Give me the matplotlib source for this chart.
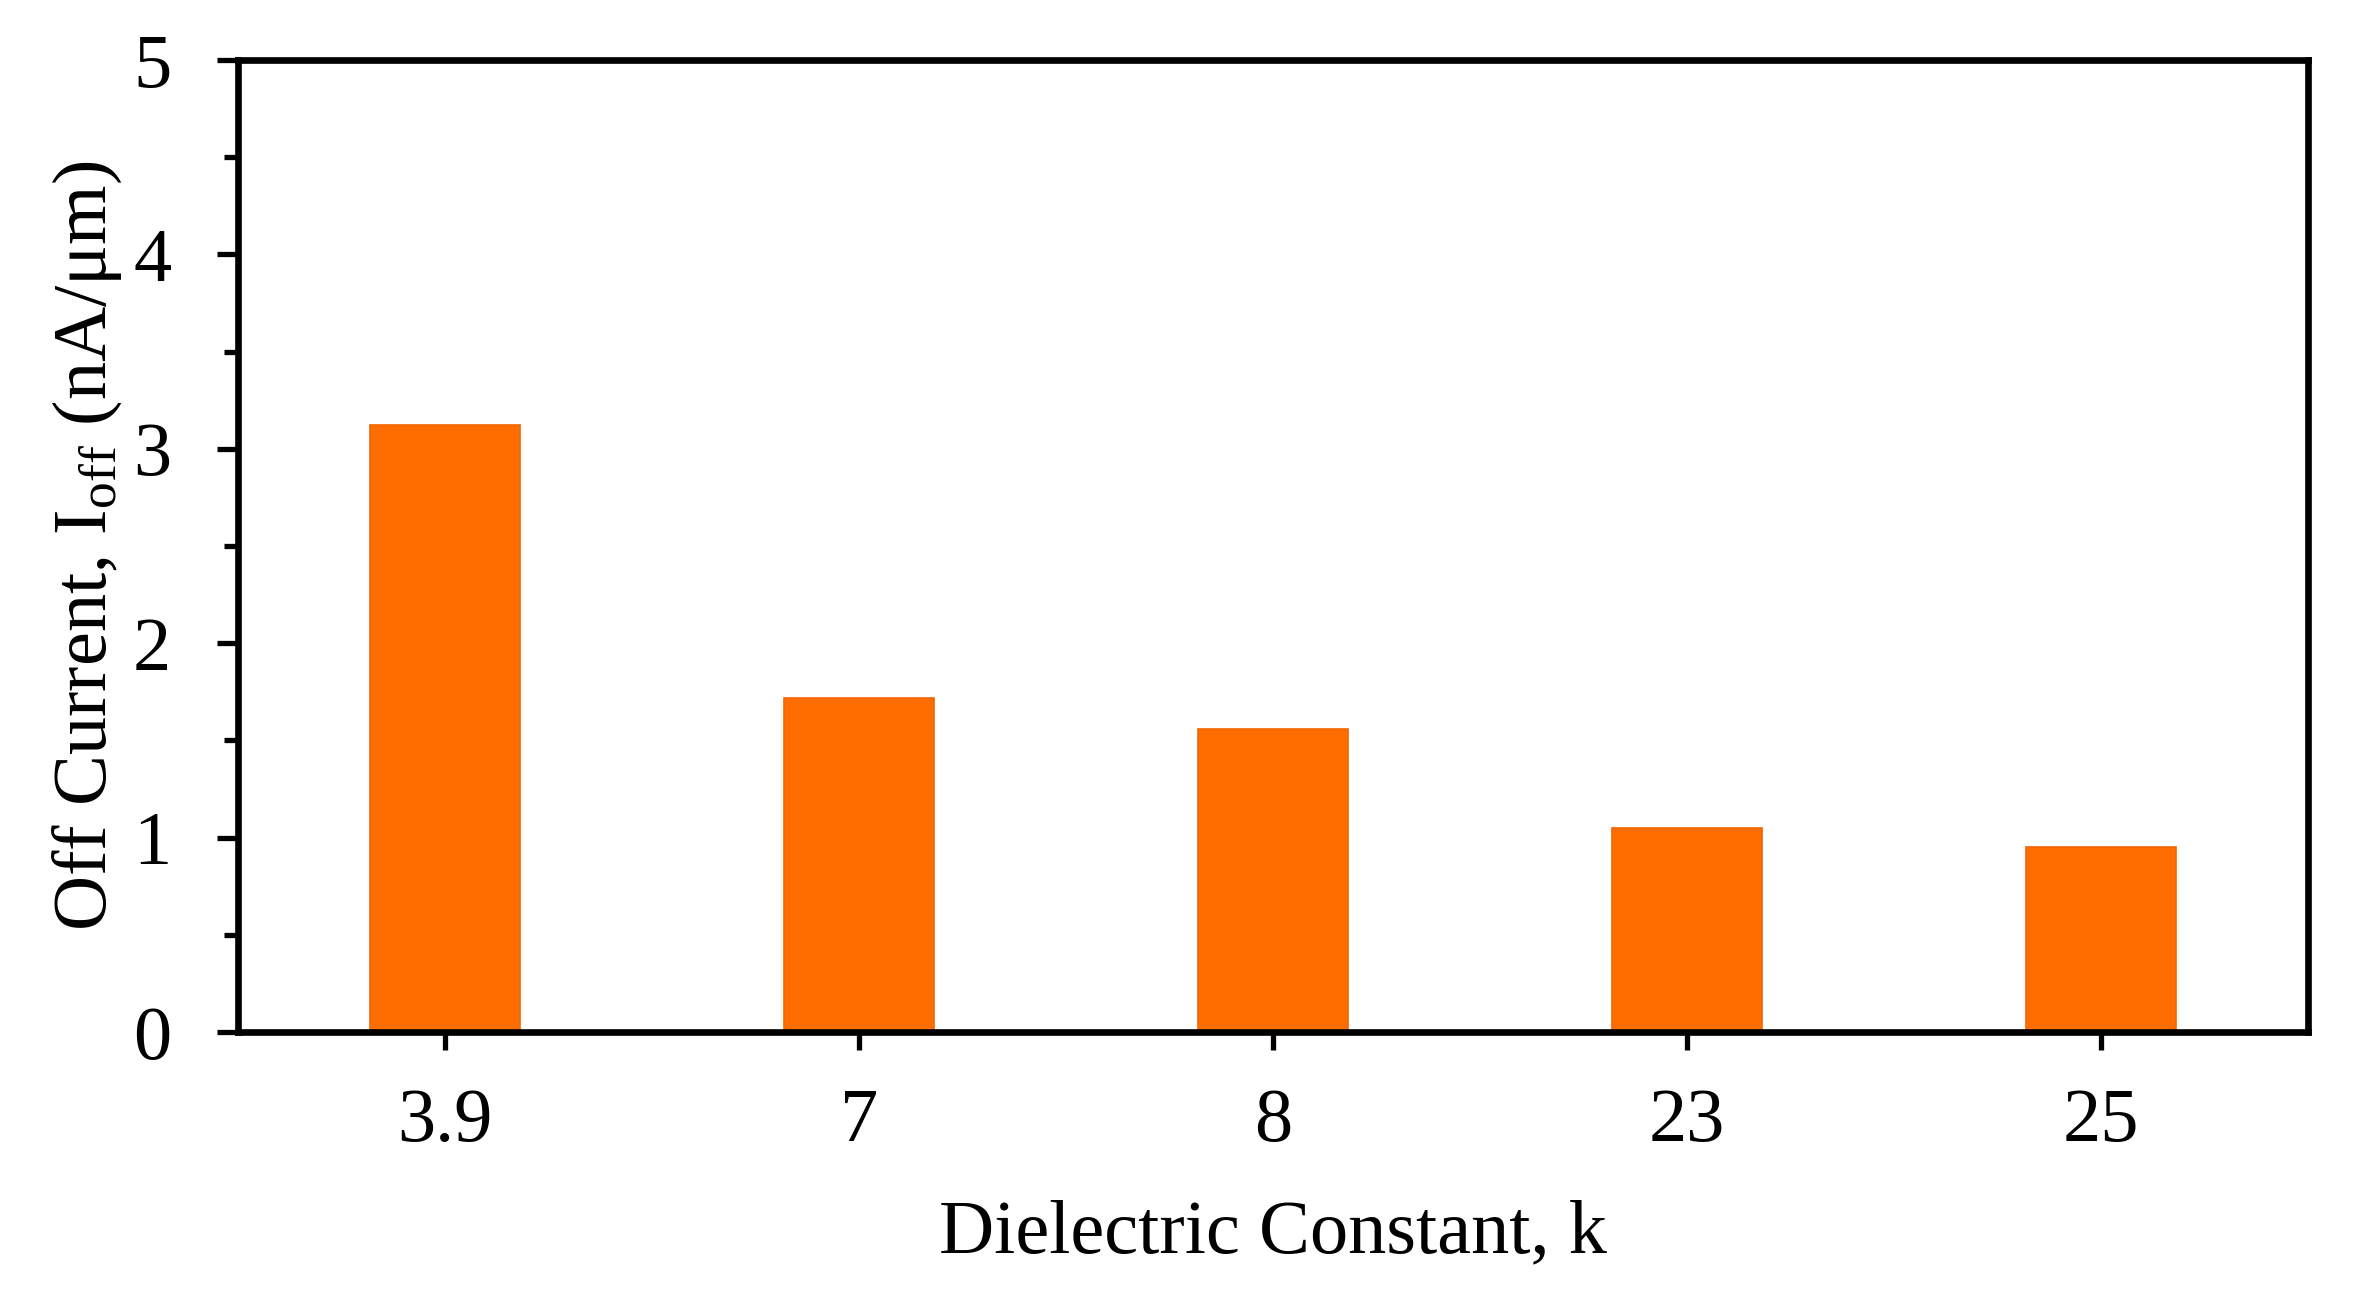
import matplotlib
matplotlib.use("Agg")
import matplotlib.pyplot as plt
from matplotlib.ticker import MultipleLocator
import numpy as np

# data
k_labels = ["3.9", "7", "8", "23", "25"]
i_off = [3.12, 1.72, 1.56, 1.05, 0.95]

plt.rcParams['font.family'] = ['Liberation Serif', 'DejaVu Serif']
plt.rcParams['mathtext.fontset'] = 'custom'
plt.rcParams['mathtext.rm'] = 'Liberation Serif'
plt.rcParams['mathtext.it'] = 'Liberation Serif:italic'

fs = 55
fig = plt.figure(figsize=(23.55, 12.91), dpi=100)
ax = fig.add_axes([238/2355, 1 - 1032/1291, (2308-238)/2355, (1032-60)/1291])

x = np.arange(len(k_labels))
ax.bar(x, i_off, width=0.36, color='#FF6D00', edgecolor='#F06600', linewidth=1.2, zorder=2)

ax.set_xlim(-0.5, len(k_labels) - 0.5)
ax.set_ylim(0, 5)
ax.set_xticks(x)
ax.set_xticklabels(k_labels)
ax.yaxis.set_major_locator(MultipleLocator(1))
ax.yaxis.set_minor_locator(MultipleLocator(0.5))

for s in ax.spines.values():
    s.set_linewidth(4.8)
    s.set_color('black')

ax.tick_params(axis='y', which='major', direction='out', length=15, width=3.8, labelsize=fs, pad=33)
ax.tick_params(axis='y', which='minor', direction='out', length=10, width=3.8)
ax.tick_params(axis='x', which='major', direction='out', length=13, width=3.8, labelsize=fs, pad=27)

ax.set_xlabel('Dielectric Constant, k', fontsize=fs)
ax.xaxis.set_label_coords(0.5, -0.172)
ax.set_ylabel('Off Current, I$_{\\mathrm{off}}$ (nA/μm)', fontsize=fs, va='center')
ax.yaxis.set_label_coords(-0.073, 0.5)

fig.savefig('out.png', dpi=100)
